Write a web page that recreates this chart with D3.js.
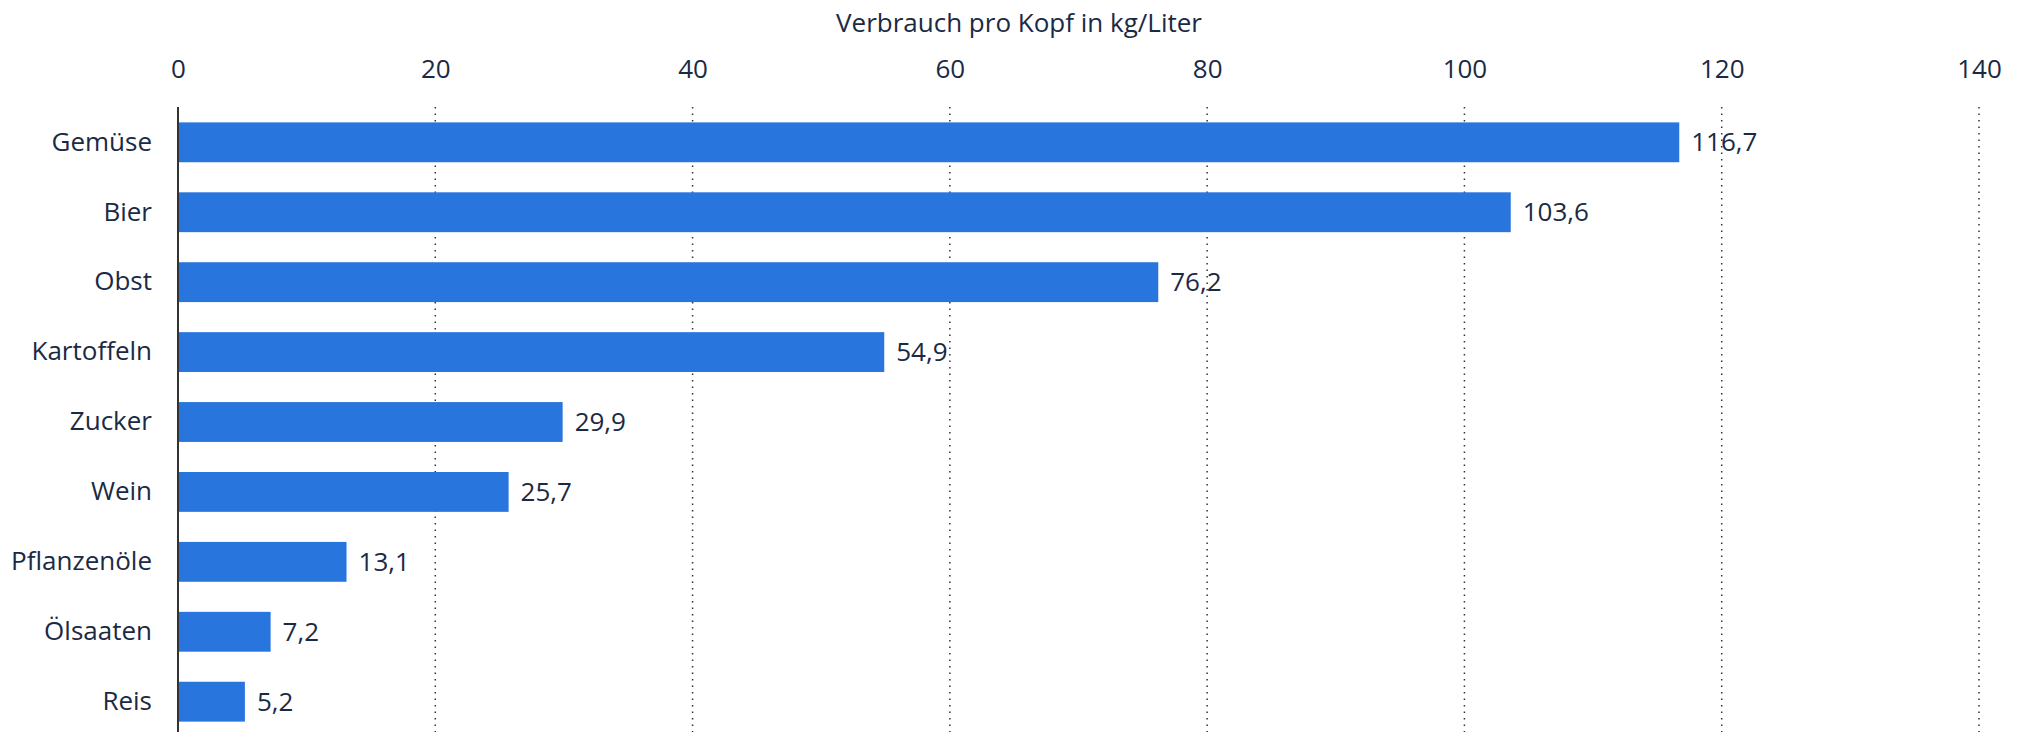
<!DOCTYPE html>
<html>
<head>
<meta charset="utf-8">
<script src="https://cdn.jsdelivr.net/npm/d3@7"></script>
<style>
  body { margin: 0; background: #fff; }
  text { font-family: "Open Sans", sans-serif; fill: #1b2a44; }
</style>
</head>
<body>
<div id="chart"></div>
<script>
var categories = ["Gemüse", "Bier", "Obst", "Kartoffeln", "Zucker", "Wein", "Pflanzenöle", "Ölsaaten", "Reis"];
var values = [116.7, 103.6, 76.2, 54.9, 29.9, 25.7, 13.1, 7.2, 5.2];
var ticks = [0, 20, 40, 60, 80, 100, 120, 140];

var width = 2022, height = 732;
var marginLeft = 178, marginRight = 1979, plotTop = 107;
var fontSize = "26px";

var svg = d3.select("#chart").append("svg").attr("width", width).attr("height", height);

var x = d3.scaleLinear().domain([0, 140]).range([marginLeft, marginRight]);
var y = d3.scaleBand()
    .domain(categories)
    .range([plotTop, 737])
    .paddingInner(0.43)
    .paddingOuter(0.22);

// gridlines
svg.selectAll("line.grid")
    .data(ticks.slice(1))
    .enter().append("line")
    .attr("class", "grid")
    .attr("x1", function(d) { return x(d); })
    .attr("x2", function(d) { return x(d); })
    .attr("y1", plotTop)
    .attr("y2", height)
    .attr("stroke", "#333")
    .attr("stroke-width", 1.5)
    .attr("stroke-dasharray", "1.5,5");

// bars
svg.selectAll("rect.bar")
    .data(values)
    .enter().append("rect")
    .attr("class", "bar")
    .attr("x", x(0))
    .attr("y", function(d, i) { return y(categories[i]); })
    .attr("width", function(d) { return x(d) - x(0); })
    .attr("height", y.bandwidth())
    .attr("fill", "#2876dd");

// value labels
svg.selectAll("text.val")
    .data(values)
    .enter().append("text")
    .attr("class", "val")
    .attr("x", function(d) { return x(d) + 12; })
    .attr("y", function(d, i) { return y(categories[i]) + y.bandwidth() / 2; })
    .attr("dy", "0.35em")
    .style("font-size", fontSize)
    .text(function(d) { return d.toFixed(1).replace(".", ","); });

// top axis
var xAxis = d3.axisTop(x).tickValues(ticks).tickSize(0).tickPadding(0);
var gx = svg.append("g").attr("transform", "translate(0,78)").call(xAxis);
gx.select(".domain").remove();
gx.selectAll("text").style("font-size", fontSize).attr("font-family", null).style("fill", "#1b2a44");

// left axis
var yAxis = d3.axisLeft(y).tickSize(0).tickPadding(26);
var gy = svg.append("g").attr("transform", "translate(" + marginLeft + ",0)").call(yAxis);
gy.select(".domain").remove();
gy.selectAll("text").style("font-size", fontSize).attr("font-family", null).style("fill", "#1b2a44");

svg.append("line")
    .attr("x1", marginLeft).attr("x2", marginLeft)
    .attr("y1", plotTop).attr("y2", height)
    .attr("stroke", "#333").attr("stroke-width", 2);

svg.append("text")
    .attr("x", 1019)
    .attr("y", 23)
    .attr("dy", "0.35em")
    .attr("text-anchor", "middle")
    .style("font-size", fontSize)
    .text("Verbrauch pro Kopf in kg/Liter");
</script>
</body>
</html>
